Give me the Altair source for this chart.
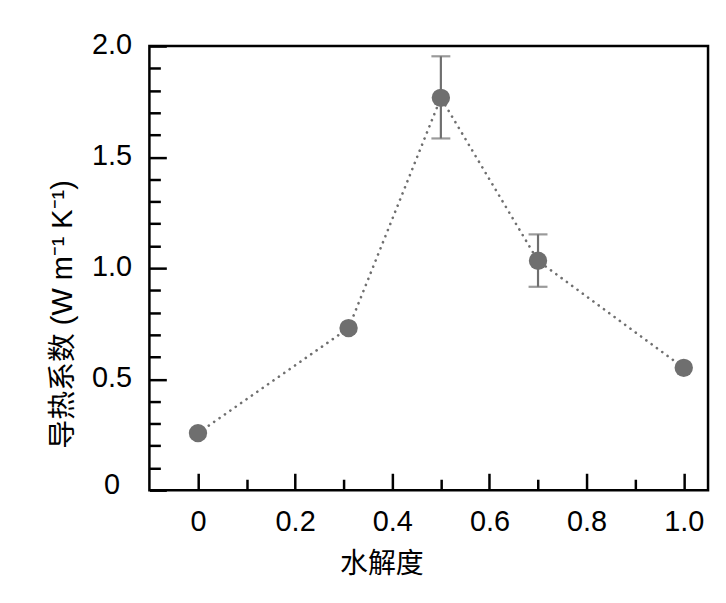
import altair as alt
import pandas as pd

# data
hydrolysis = [0.0, 0.31, 0.5, 0.7, 1.0]
conductivity = [0.257, 0.73, 1.767, 1.033, 0.551]
err_x = [0.5, 0.7]
err_low = [1.584, 0.916]
err_high = [1.954, 1.152]

x_major = [0, 0.2, 0.4, 0.6, 0.8, 1.0]
x_minor = [0.1, 0.3, 0.5, 0.7, 0.9]
y_major = [0, 0.5, 1.0, 1.5, 2.0]
y_minor = [0.1, 0.2, 0.3, 0.4, 0.6, 0.7, 0.8, 0.9, 1.1, 1.2, 1.3, 1.4, 1.6, 1.7, 1.8, 1.9]

df = pd.DataFrame({"x": hydrolysis, "y": conductivity})
edf = pd.DataFrame({"x": err_x, "lo": err_low, "hi": err_high})

GRAY = "#6f6f6f"
LAB_FONT = "Liberation Sans"
TITLE_FONT = "Liberation Sans, Noto Sans CJK SC"
MAJ = 17
MIN = 11

xscale = alt.Scale(domain=[-0.1, 1.05], nice=False, zero=False)
yscale = alt.Scale(domain=[0, 2.0], nice=False, zero=False)

lab_expr = "datum.value == 0 ? '0' : format(datum.value, '.1f')"

x_major_axis = alt.Axis(
    orient="bottom", values=x_major, tickSize=MAJ, offset=-MAJ, domain=False,
    grid=False, tickColor="black", tickWidth=2.5, labelExpr=lab_expr,
    labelFont=LAB_FONT, labelFontSize=29, labelColor="black", labelPadding=17,
    title="水解度", titleFont=TITLE_FONT, titleFontSize=28, titleFontWeight="normal",
    titleColor="black", titleX=233, titleY=92, titleAlign="center", titleBaseline="middle",
)
y_major_axis = alt.Axis(
    orient="left", values=y_major, tickSize=MAJ, offset=-MAJ, domain=False,
    grid=False, tickColor="black", tickWidth=2.5, labelExpr=lab_expr,
    labelFont=LAB_FONT, labelFontSize=29, labelColor="black", labelPadding=38,
    labelAlign="center", labelBaseline="middle",
    labelOffset={"condition": {"test": "datum.value == 0", "value": -6}, "value": -2},
    title="导热系数 (W m⁻¹ K⁻¹)", titleFont=TITLE_FONT, titleFontSize=29,
    titleFontWeight="normal", titleColor="black", titleX=-104, titleY=269,
    titleAngle=-90, titleAlign="center", titleBaseline="middle",
)
x_minor_axis = alt.Axis(
    orient="bottom", values=x_minor, tickSize=MIN, offset=-MIN, domain=False,
    grid=False, tickColor="black", tickWidth=2.5, labels=False, title=None,
)
y_minor_axis = alt.Axis(
    orient="left", values=y_minor, tickSize=MIN, offset=-MIN, domain=False,
    grid=False, tickColor="black", tickWidth=2.5, labels=False, title=None,
)

line = alt.Chart(df).mark_line(
    color=GRAY, strokeWidth=2.6, strokeDash=[0.1, 6.5], strokeCap="round"
).encode(
    x=alt.X("x:Q", scale=xscale, axis=x_major_axis),
    y=alt.Y("y:Q", scale=yscale, axis=y_major_axis),
)

minor = alt.Chart(df).mark_point(opacity=0).encode(
    x=alt.X("x:Q", scale=xscale, axis=x_minor_axis),
    y=alt.Y("y:Q", scale=yscale, axis=y_minor_axis),
)

bars = alt.Chart(edf).mark_rule(color=GRAY, strokeWidth=2.2).encode(
    x=alt.X("x:Q", scale=xscale, axis=None),
    y=alt.Y("lo:Q", scale=yscale, axis=None),
    y2="hi:Q",
)
cap_lo = alt.Chart(edf).mark_tick(color=GRAY, size=19, thickness=2.2, orient="horizontal").encode(
    x=alt.X("x:Q", scale=xscale, axis=None),
    y=alt.Y("lo:Q", scale=yscale, axis=None),
)
cap_hi = alt.Chart(edf).mark_tick(color=GRAY, size=19, thickness=2.2, orient="horizontal").encode(
    x=alt.X("x:Q", scale=xscale, axis=None),
    y=alt.Y("hi:Q", scale=yscale, axis=None),
)

points = alt.Chart(df).mark_circle(color=GRAY, size=340, opacity=1).encode(
    x=alt.X("x:Q", scale=xscale, axis=None),
    y=alt.Y("y:Q", scale=yscale, axis=None),
)

chart = alt.layer(line, minor, bars, cap_lo, cap_hi, points).resolve_axis(
    x="independent", y="independent"
).properties(
    width=561, height=446,
    autosize=alt.AutoSizeParams(type="none"),
    padding={"left": 142, "top": 37, "right": 10, "bottom": 100},
    background="white",
).configure_view(
    stroke="black", strokeWidth=2.5
)

chart.save("out.html", embed_options={"renderer": "svg", "actions": False})
